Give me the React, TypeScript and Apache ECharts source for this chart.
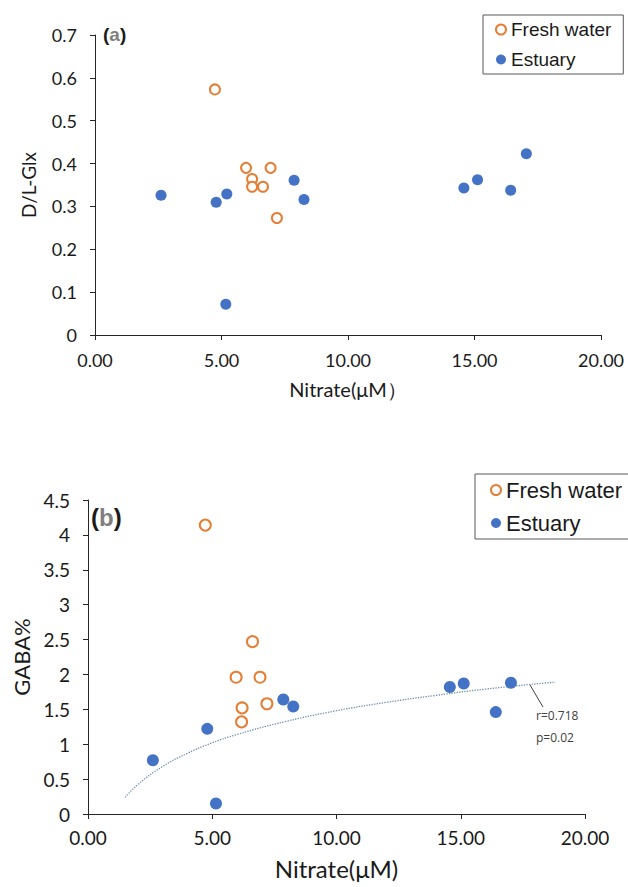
import React, { useEffect, useRef } from "react";
import * as echarts from "echarts";

// Panel (a): D/L-Glx vs Nitrate
const freshAX = [4.74, 5.97, 6.94, 6.21, 6.21, 6.64, 7.19];
const freshAY = [0.573, 0.39, 0.39, 0.364, 0.346, 0.346, 0.273];
const estAX = [2.61, 4.79, 5.21, 5.17, 7.87, 8.26, 14.58, 15.12, 16.43, 17.05];
const estAY = [0.326, 0.31, 0.329, 0.072, 0.361, 0.316, 0.343, 0.362, 0.338, 0.423];

// Panel (b): GABA% vs Nitrate
const freshBX = [4.72, 6.62, 5.96, 6.92, 6.2, 6.18, 7.2];
const freshBY = [4.14, 2.47, 1.96, 1.96, 1.52, 1.32, 1.58];
const estBX = [2.61, 4.8, 5.15, 7.86, 8.26, 14.56, 15.12, 16.41, 17.02];
const estBY = [0.77, 1.22, 0.15, 1.64, 1.54, 1.82, 1.87, 1.46, 1.88];

// Trend line (logarithmic)
const trendX = [1.5, 2, 3, 4, 5, 6, 8, 10, 12, 14, 16, 18.8];
const trendY = [0.24, 0.42, 0.68, 0.87, 1.02, 1.14, 1.33, 1.48, 1.6, 1.7, 1.79, 1.89];

const seriesNames = ["Fresh water", "Estuary"];
const annotation = ["r=0.718", "p=0.02"];

const ORANGE = "#E57E35";
const BLUE = "#4472C4";
const TICK_FONT = "Lato";
const LEG_FONT = "Liberation Sans";

const zip = (xs: number[], ys: number[]) => xs.map((x, i) => [x, ys[i]]);

export default function App() {
  const ref = useRef<HTMLDivElement>(null);
  useEffect(() => {
    if (!ref.current) return;
    const chart = echarts.init(ref.current, undefined, { renderer: "svg" });
    const axisLine = { lineStyle: { color: "#262626", width: 1 } };
    const axisTick = { length: 5, lineStyle: { color: "#262626" } };
    const xAxisBase = (idx: number, name: string, fontSize: number, margin: number, nameSize: number, nameGap: number) => ({
      type: "value",
      gridIndex: idx,
      min: 0,
      max: 20,
      interval: 5,
      name,
      nameLocation: "middle",
      nameGap,
      nameTextStyle: { fontFamily: TICK_FONT, fontSize: nameSize, color: "#1a1a1a" },
      axisLine,
      axisTick,
      splitLine: { show: false },
      axisLabel: {
        fontFamily: TICK_FONT,
        fontSize,
        color: "#1a1a1a",
        margin,
        formatter: (v: number) => v.toFixed(2),
      },
    });
    const legendData = [
      { name: seriesNames[0], icon: "emptyCircle", itemStyle: { color: ORANGE, borderColor: ORANGE, borderWidth: 2, opacity: 1 } },
      { name: seriesNames[1], icon: "circle", itemStyle: { color: BLUE, opacity: 1 } },
    ];
    const option: any = {
      animation: false,
      backgroundColor: "#fff",
      grid: [
        { left: 95, width: 506, top: 35, height: 300 },
        { left: 88, width: 497, top: 500, height: 314 },
      ],
      xAxis: [
        xAxisBase(0, "Nitrate(μM）", 18, 16, 20, 44),
        xAxisBase(1, "Nitrate(μM)", 19, 14, 24, 42),
      ],
      yAxis: [
        {
          type: "value",
          gridIndex: 0,
          min: 0,
          max: 0.7,
          interval: 0.1,
          name: "D/L-Glx",
          nameLocation: "middle",
          nameGap: 57,
          nameTextStyle: { fontFamily: TICK_FONT, fontSize: 19, color: "#1a1a1a" },
          axisLine: { show: true, ...axisLine },
          axisTick: { show: true, ...axisTick },
          splitLine: { show: false },
          axisLabel: { fontFamily: TICK_FONT, fontSize: 18, color: "#1a1a1a", margin: 18 },
        },
        {
          type: "value",
          gridIndex: 1,
          min: 0,
          max: 4.5,
          interval: 0.5,
          name: "GABA%",
          nameLocation: "middle",
          nameGap: 52,
          nameTextStyle: { fontFamily: TICK_FONT, fontSize: 22, color: "#1a1a1a" },
          axisLine: { show: true, ...axisLine },
          axisTick: { show: true, ...axisTick },
          splitLine: { show: false },
          axisLabel: { fontFamily: TICK_FONT, fontSize: 19, color: "#1a1a1a", margin: 18 },
        },
      ],
      legend: [
        {
          orient: "vertical",
          left: 483,
          top: 15,
          padding: [5, 12, 5, 12],
          itemGap: 11,
          itemWidth: 10,
          itemHeight: 10,
          borderColor: "#595959",
          borderWidth: 1,
          backgroundColor: "#fff",
          textStyle: { fontFamily: LEG_FONT, fontSize: 19, color: "#1a1a1a", padding: [0, 0, 0, 0] },
          data: legendData,
        },
        {
          orient: "vertical",
          left: 475,
          top: 474,
          padding: [5, 30, 5, 15],
          itemGap: 11,
          itemWidth: 10,
          itemHeight: 10,
          borderColor: "#595959",
          borderWidth: 1,
          backgroundColor: "#fff",
          textStyle: { fontFamily: LEG_FONT, fontSize: 22, color: "#1a1a1a", padding: [0, 0, 0, 0] },
          data: legendData,
        },
      ],
      series: [
        {
          name: seriesNames[0],
          type: "scatter",
          xAxisIndex: 0,
          yAxisIndex: 0,
          symbol: "emptyCircle",
          symbolSize: 10,
          itemStyle: { color: ORANGE, borderColor: ORANGE, borderWidth: 2, opacity: 1 },
          data: zip(freshAX, freshAY),
          z: 3,
        },
        {
          name: seriesNames[1],
          type: "scatter",
          xAxisIndex: 0,
          yAxisIndex: 0,
          symbol: "circle",
          symbolSize: 11,
          itemStyle: { color: BLUE, opacity: 1 },
          data: zip(estAX, estAY),
          z: 4,
        },
        {
          name: "trend",
          type: "line",
          xAxisIndex: 1,
          yAxisIndex: 1,
          smooth: true,
          symbol: "none",
          lineStyle: { color: "#6b8fb3", width: 1.3, type: "dotted" },
          data: zip(trendX, trendY),
          z: 2,
          silent: true,
        },
        {
          name: seriesNames[0],
          type: "scatter",
          xAxisIndex: 1,
          yAxisIndex: 1,
          symbol: "emptyCircle",
          symbolSize: 11,
          itemStyle: { color: ORANGE, borderColor: ORANGE, borderWidth: 2, opacity: 1 },
          data: zip(freshBX, freshBY),
          z: 3,
        },
        {
          name: seriesNames[1],
          type: "scatter",
          xAxisIndex: 1,
          yAxisIndex: 1,
          symbol: "circle",
          symbolSize: 12,
          itemStyle: { color: BLUE, opacity: 1 },
          data: zip(estBX, estBY),
          z: 4,
        },
      ],
      graphic: [
        {
          type: "text",
          left: 103,
          top: 25,
          style: {
            text: "{p|(}{g|a}{p|)}",
            rich: {
              p: { fontFamily: LEG_FONT, fontSize: 19, fontWeight: "bold", fill: "#1a1a1a" },
              g: { fontFamily: LEG_FONT, fontSize: 19, fontWeight: "bold", fill: "#7f7f7f" },
            },
          },
        },
        {
          type: "text",
          left: 91,
          top: 505,
          style: {
            text: "{p|(}{g|b}{p|)}",
            rich: {
              p: { fontFamily: LEG_FONT, fontSize: 24, fontWeight: "bold", fill: "#1a1a1a" },
              g: { fontFamily: LEG_FONT, fontSize: 24, fontWeight: "bold", fill: "#7f7f7f" },
            },
          },
        },
        {
          type: "line",
          shape: { x1: 530, y1: 685, x2: 543, y2: 707 },
          style: { stroke: "#404040", lineWidth: 1 },
        },
        {
          type: "text",
          left: 536,
          top: 709,
          style: { text: annotation[0], fontFamily: "Open Sans", fontSize: 12, fill: "#404040" },
        },
        {
          type: "text",
          left: 536,
          top: 731,
          style: { text: annotation[1], fontFamily: "Open Sans", fontSize: 12, fill: "#404040" },
        },
      ],
    };
    chart.setOption(option);
    return () => chart.dispose();
  }, []);
  return (
    <div
      ref={ref}
      style={{ position: "fixed", left: 0, top: 0, width: 628, height: 887, background: "#fff" }}
    />
  );
}
